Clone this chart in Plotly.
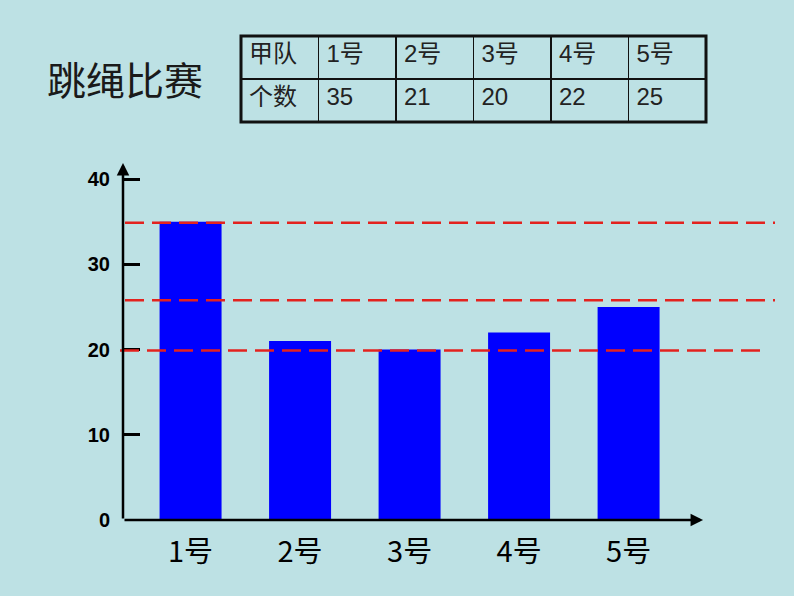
import plotly.graph_objects as go

# data
players = ["1号", "2号", "3号", "4号", "5号"]
counts = [35, 21, 20, 22, 25]
ref_lines = [34.9, 25.8, 19.9]
y_ticks = [0, 10, 20, 30, 40]
table_head = "甲队"
table_row = "个数"
title_text = "跳绳比赛"

W, H = 794, 596
bg = "#bde1e4"
cjk = "Liberation Sans, Arial, Noto Sans CJK SC"

# pixel helpers for the layout (figure coords, margin 0)
def px(x):
    return x / W

def py(y):
    return 1 - y / H

x0, x1 = -0.617, 5.337   # category axis range
y_top = 42.25

fig = go.Figure()

fig.add_trace(go.Bar(
    x=players, y=counts,
    marker=dict(color="#0000ff", line=dict(width=0)),
    width=0.566,
    xaxis="x", yaxis="y",
    showlegend=False,
))

# the little table at the top
fig.add_trace(go.Table(
    domain=dict(x=[px(241), px(706)], y=[py(132), py(36)]),
    columnwidth=[1] * (len(players) + 1),
    header=dict(
        values=[table_head] + players,
        align="left", height=43,
        fill_color="rgba(0,0,0,0)",
        line=dict(color="#111111", width=1.5),
        font=dict(family=cjk, size=24, color="#222222"),
    ),
    cells=dict(
        values=[[table_row]] + [[str(c)] for c in counts],
        align="left", height=43,
        fill_color="rgba(0,0,0,0)",
        line=dict(color="#111111", width=1.5),
        font=dict(family=cjk, size=24, color="#222222"),
    ),
))

shapes = [
    dict(type="rect", xref="paper", yref="paper",
         x0=px(241), x1=px(706), y0=py(122), y1=py(36),
         line=dict(color="#111111", width=3)),
]
starts = [125, 125, 120]
ends = [775, 775, 768]
for v, a, b in zip(ref_lines, starts, ends):
    shapes.append(dict(type="line", xref="paper", yref="y",
                       x0=px(a), x1=px(b), y0=v, y1=v,
                       line=dict(color="#e3221e", width=2.5, dash="19px,8px")))

annotations = [
    dict(text=title_text, xref="paper", yref="paper", x=px(45), y=py(78),
         xanchor="left", yanchor="middle", showarrow=False,
         font=dict(family="Noto Sans CJK SC", size=39, color="#1a1a1a")),
    # axes drawn as arrows
    dict(text="", x=x0, y=41.9, ax=x0, ay=0, xref="x", yref="y",
         axref="x", ayref="y", showarrow=True, arrowhead=2, arrowsize=1,
         arrowwidth=2.5, arrowcolor="black"),
    dict(text="", x=4.68, y=0, ax=x0, ay=0, xref="x", yref="y",
         axref="x", ayref="y", showarrow=True, arrowhead=2, arrowsize=1,
         arrowwidth=2.5, arrowcolor="black"),
]

fig.update_layout(
    width=W, height=H,
    margin=dict(l=0, r=0, t=0, b=0),
    paper_bgcolor=bg, plot_bgcolor=bg,
    shapes=shapes, annotations=annotations,
    xaxis=dict(domain=[px(123), px(775)], range=[x0, x1],
               showgrid=False, zeroline=False, showline=False, ticks="",
               ticklabelstandoff=12, automargin=False,
               tickfont=dict(family="Liberation Sans Narrow, Noto Sans CJK SC",
                             size=29, color="black")),
    yaxis=dict(domain=[py(520), py(160)], range=[0, y_top],
               tickvals=y_ticks, showgrid=False, zeroline=False,
               showline=False, ticks="inside", ticklen=17, tickwidth=3,
               tickcolor="black", ticklabelstandoff=12, automargin=False,
               tickfont=dict(family="Liberation Sans, Arial", size=20,
                             color="black", weight="bold")),
)

fig.write_html(
    "out.html",
    config={"responsive": False, "displayModeBar": False},
    post_script="document.body.style.margin='0px';",
)
